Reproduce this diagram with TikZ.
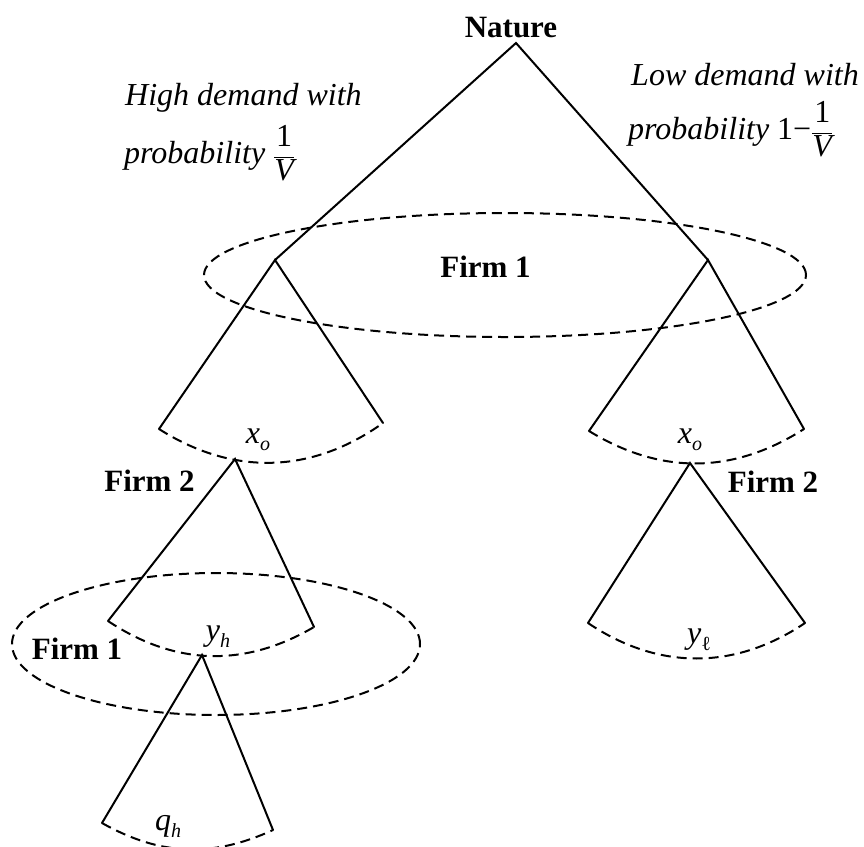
\documentclass[tikz,border=0pt]{standalone}
\usepackage{fontspec}
\setmainfont{Liberation Serif}
\newcommand\varsub[2]{\textit{#1}\raisebox{-0.22em}{\fontsize{20}{20}\selectfont\itshape #2}}
\newcommand\onefrac{$\displaystyle\frac{\mbox{\upshape 1}}{\mbox{\itshape V}}$}
\begin{document}
\begin{tikzpicture}[x=1pt,y=1pt,
  tree/.style={line width=2pt, line cap=round},
  info/.style={dash pattern=on 10pt off 6pt, line width=2pt},
  lab/.style={font=\fontsize{31}{37}\selectfont\bfseries, anchor=base, inner sep=0pt},
  itlab/.style={font=\fontsize{32}{38}\selectfont\itshape, anchor=base west, inner sep=0pt},
  var/.style={font=\fontsize{32}{38}\selectfont, anchor=base, inner sep=0pt}]
\useasboundingbox (0,-846) rectangle (864,0);
% decision points
\coordinate (N) at (516,-43);
\coordinate (A) at (275,-260);
\coordinate (B) at (708,-260);
\coordinate (A1) at (159,-429);
\coordinate (A2) at (383,-423);
\coordinate (B1) at (589,-431);
\coordinate (B2) at (804,-429);
\coordinate (C) at (235,-459);
\coordinate (C1) at (108,-621);
\coordinate (C2) at (314,-627);
\coordinate (D) at (690,-463);
\coordinate (D1) at (588,-623);
\coordinate (D2) at (805,-623);
\coordinate (E) at (202,-655);
\coordinate (E1) at (102,-823);
\coordinate (E2) at (273,-830);
% branches
\draw[tree] (A) -- (N) -- (B);
\draw[tree] (A1) -- (A) -- (A2);
\draw[tree] (B1) -- (B) -- (B2);
\draw[tree] (C1) -- (C) -- (C2);
\draw[tree] (D1) -- (D) -- (D2);
\draw[tree] (E1) -- (E) -- (E2);
% arcs
\draw[info] (A1) to[bend right=34] (A2);
\draw[info] (B1) to[bend right=32] (B2);
\draw[info] (C1) to[bend right=32] (C2);
\draw[info] (D1) to[bend right=34] (D2);
\draw[info] (E1) to[bend right=27] (E2);
% information sets
\coordinate (I1) at (505,-275);
\coordinate (I2) at (216,-644);
\draw[info] (I1) ellipse [x radius=301, y radius=62];
\draw[info] (I2) ellipse [x radius=204, y radius=71];
% labels
\node[lab] (nature) at (511,-37) {Nature};
\node[lab] (f1a) at (485.5,-277) {Firm 1};
\node[lab] (f2a) at (149.5,-491) {Firm 2};
\node[lab] (f2b) at (773,-492) {Firm 2};
\node[lab] (f1b) at (77,-659) {Firm 1};
\node[itlab] (hi1) at (125,-105) {High demand with};
\node[itlab] (hi2) at (124,-163) {probability \onefrac};
\node[itlab] (lo1) at (631,-85) {Low demand with};
\node[itlab] (lo2) at (628,-139) {probability \upshape 1−\onefrac};
\node[var] (xo1) at (258,-443) {\varsub{x}{o}};
\node[var] (xo2) at (690,-443) {\varsub{x}{o}};
\node[var] (yh) at (218,-640) {\varsub{y}{h}};
\node[var] (yl) at (699,-643) {\textit{y}\raisebox{-0.22em}{\fontsize{20}{20}\selectfont ℓ}};
\node[var] (qh) at (168,-830) {\varsub{q}{h}};
\end{tikzpicture}
\end{document}
